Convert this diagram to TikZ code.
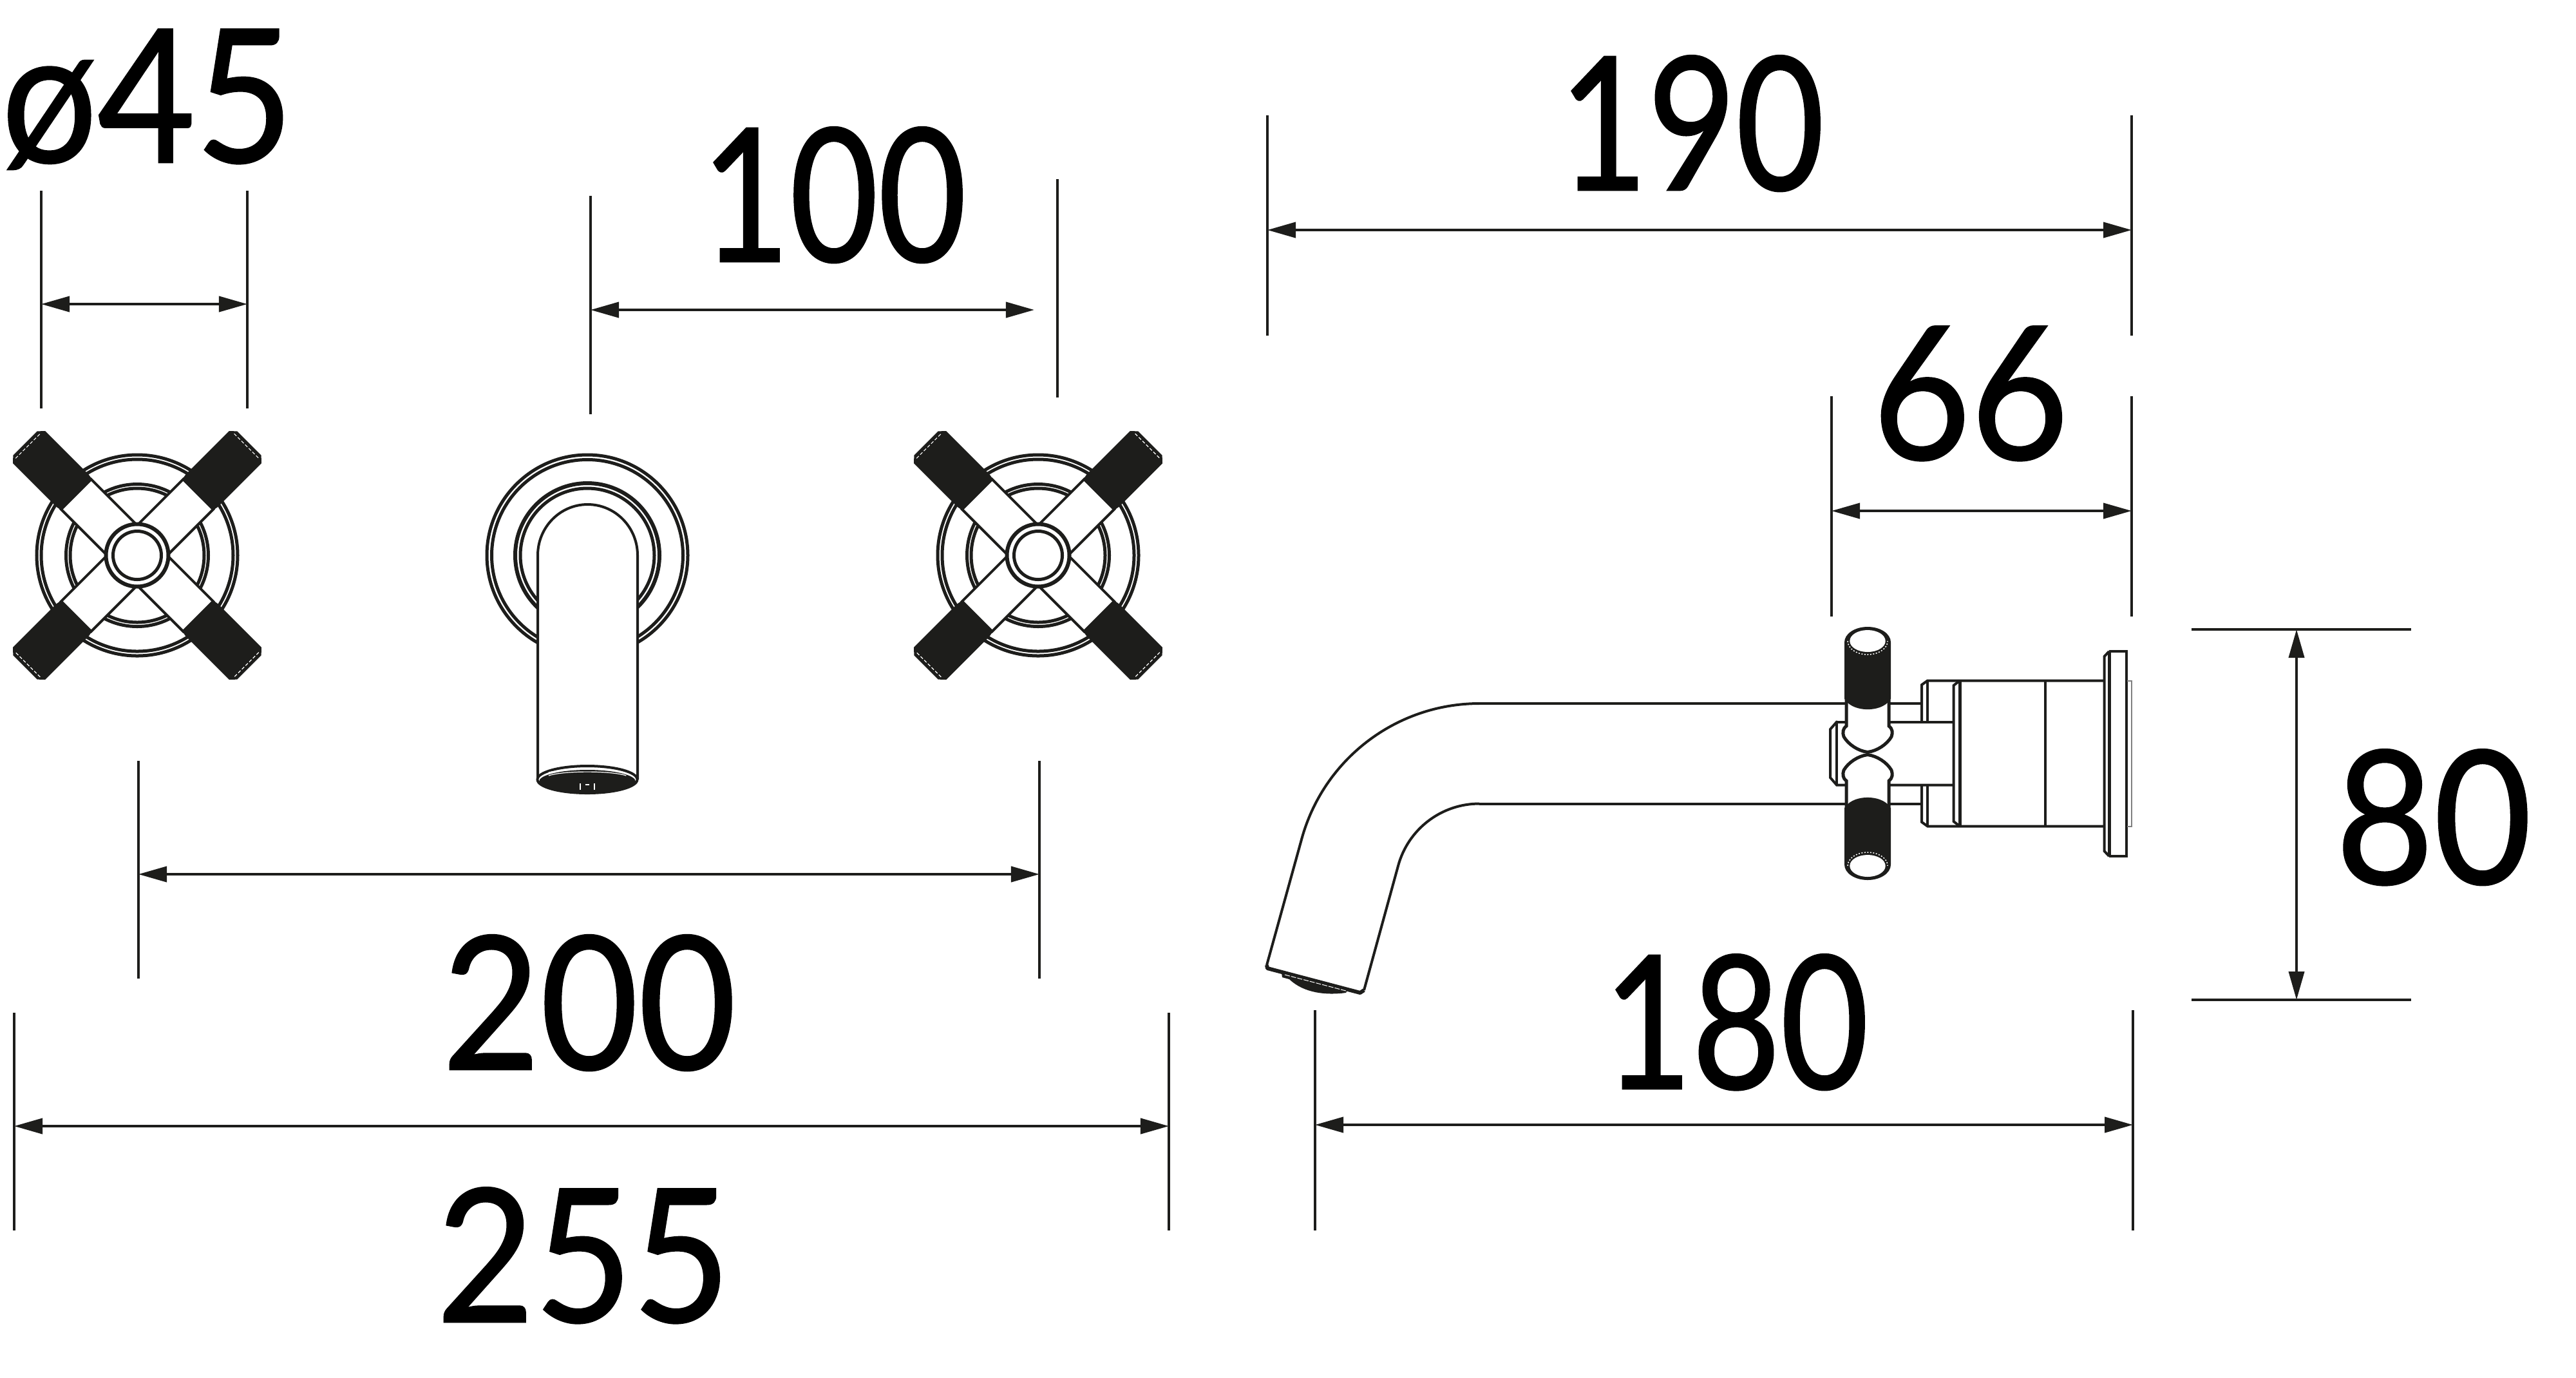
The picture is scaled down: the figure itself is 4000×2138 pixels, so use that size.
\documentclass[tikz,border=0pt]{standalone}
\usepackage{fontspec}
\setmainfont{Lato}[FakeStretch=.82,FakeBold=.9]
\newfontfamily\widefigures{Lato}[FakeStretch=.91,FakeBold=.9]
\usetikzlibrary{arrows.meta}

\definecolor{inkblack}{HTML}{1D1D1B}

\tikzset{
  extline/.style={draw=inkblack,line width=.04cm},
  dimline/.style={draw=inkblack,line width=.04cm,
    {Triangle[length=.44cm,width=.24cm]}-{Triangle[length=.44cm,width=.24cm]}},
  dimtext/.style={anchor=base,inner sep=0pt,font=\fontsize{82}{90}\selectfont},
  dimtext wide/.style={anchor=base,inner sep=0pt,font=\widefigures\fontsize{82}{90}\selectfont},
  part/.style={draw=inkblack,line width=.04cm},
  ring/.style={draw=inkblack,line width=.05cm},
  solid part/.style={fill=inkblack,draw=inkblack,line width=.02cm}
}

\begin{document}
\begin{tikzpicture}[x=.01cm,y=-.01cm]
  \useasboundingbox (0,0) rectangle (4000,2138);

  % crossheads seen from the front
  \foreach \cx in {213,1612} {
    \begin{scope}[shift={(\cx,862)}]
      \draw[ring] (0,0) circle (156);
      \draw[ring] (0,0) circle (149);
      \draw[ring] (0,0) circle (110.5);
      \draw[ring] (0,0) circle (104);
      \foreach \a in {45,135,225,315} {
        \fill[white,rotate=\a] (0,-33) rectangle (134,33);
      }
      \foreach \a in {45,135,225,315} {
        \begin{scope}[rotate=\a]
          \draw[part] (33,33) -- (134,33) -- (134,-33) -- (33,-33);
          \fill[solid part] (134,-33) -- (142,-34.5) -- (237,-34.5) -- (245,-26)
            -- (245,26) -- (237,34.5) -- (142,34.5) -- (134,33) -- cycle;
          \draw[white,line width=.012cm,dash pattern=on .05cm off .03cm] (240,-27) -- (240,27);
        \end{scope}
      }
      \filldraw[ring,line width=.06cm,fill=white] (0,0) circle (48.5);
      \draw[ring] (0,0) circle (37.5);
    \end{scope}
  }

  % spout seen from the front
  \draw[ring] (912,862) circle (156);
  \draw[ring] (912,862) circle (148.5);
  \draw[ring,line width=.06cm] (912,862) circle (112);
  \draw[ring] (912,862) circle (104);
  \filldraw[part,fill=white] (835,1210) -- (835,862) arc (180:360:77.5 and 79) -- (990,1210);
  \filldraw[part,fill=white] (912,1210) ellipse (77.5 and 21);
  \fill[inkblack] (912,1213) ellipse (75 and 18);
  \begin{scope}[white,line width=.012cm]
    \draw (852,1204) arc (200:340:64 and 9);
    \draw[dash pattern=on .06cm off .04cm] (852,1199) arc (210:330:68 and 10);
    \draw (901,1216) -- (901,1226) (923,1216) -- (923,1226);
    \draw (909,1218) -- (915,1218);
  \end{scope}

  % side view, body behind the crosshead
  \draw[part] (2297,1092) -- (2984,1092);
  \draw[part] (2297,1247.5) -- (2984,1247.5);
  \draw[part] (2297,1092) arc (-90:-165:286) -- (1967,1498);
  \draw[part] (2297,1247.5) arc (-90:-165:130.5) -- (2118,1537);
  \fill[inkblack] (1990,1510) -- (2092,1537) -- (2090,1541)
    .. controls (2060,1545) and (2025,1542) .. (2002,1520) -- (1991,1517) -- cycle;
  \draw[part,line width=.06cm,line join=round] (1967,1498) -- (1968,1503) -- (2112,1541) -- (2118,1537);
  \draw[white,line width=.01cm,dash pattern=on .08cm off .02cm] (1995,1513) -- (2090,1538);

  \draw[part] (2853,1120.5) -- (2852,1120.5) -- (2842,1132) -- (2842,1207) -- (2852,1218.5) -- (3033,1218.5);
  \draw[part] (2853,1120.5) -- (3033,1120.5);
  \draw[part] (2852,1120.5) -- (2852,1218.5);
  \draw[part] (2984,1120.5) -- (2984,1063) -- (2993,1056.5) -- (3267,1056.5);
  \draw[part] (2984,1218.5) -- (2984,1276) -- (2993,1282.5) -- (3267,1282.5);
  \draw[part] (2993,1056.5) -- (2993,1120.5) (2993,1218.5) -- (2993,1282.5);
  \draw[part] (3043,1056.5) -- (3033.5,1064) -- (3033.5,1275) -- (3043,1282.5);
  \draw[part,line width=.05cm] (3043,1056.5) -- (3043,1282.5);
  \draw[part] (3176,1056.5) -- (3176,1282.5);
  \draw[part] (3275,1011) -- (3267.5,1019) -- (3267.5,1321) -- (3275,1329);
  \draw[part,line width=.05cm] (3275,1011) -- (3275,1329);
  \draw[part] (3275,1011) -- (3302,1011) -- (3302,1329) -- (3275,1329);
  \draw[gray,line width=.015cm] (3303,1057) -- (3310,1057) -- (3310,1283) -- (3303,1283);

  % side view, the two crosshead arms
  \foreach \s in {1,-1} {
    \begin{scope}[shift={(2900,1169.5)},yscale=\s]
      \filldraw[part,line width=.05cm,fill=white] (-33,-84) -- (-33,-42.5)
        .. controls (-39,-38) and (-39,-32) .. (-37,-26)
        .. controls (-30,-14) and (-15,-4) .. (0,-2)
        .. controls (15,-4) and (30,-14) .. (37,-26)
        .. controls (39,-32) and (39,-38) .. (33,-42.5) -- (33,-84);
      \filldraw[solid part] (-35,-172.5) arc (180:360:35 and 23) -- (35,-85) -- (33,-82.5)
        .. controls (20,-65) and (-20,-65) .. (-33,-82.5) -- (-35,-85) -- cycle;
      \draw[white,line width=.015cm,dash pattern=on .02cm off .025cm] (-31,-174.5) arc (180:0:31 and 21);
      \fill[white] (0,-174.5) ellipse (27.7 and 17);
    \end{scope}
  }

  % dimension lines
  \coordinate (dia left top)     at (64,296);
  \coordinate (dia left bottom)  at (64,634);
  \coordinate (dia right top)    at (384,296);
  \coordinate (dia right bottom) at (384,634);
  \coordinate (dia left end)     at (64,472);
  \coordinate (dia right end)    at (384,472);
  \draw[extline] (dia left top) -- (dia left bottom);
  \draw[extline] (dia right top) -- (dia right bottom);
  \draw[dimline] (dia left end) -- (dia right end);
  \node[dimtext wide] (dia label) at (229,252) {ø45};

  \coordinate (hole left top)     at (917,304);
  \coordinate (hole left bottom)  at (917,643);
  \coordinate (hole right top)    at (1642,278);
  \coordinate (hole right bottom) at (1642,617);
  \coordinate (hole left end)     at (917,481);
  \coordinate (hole right end)    at (1606,481);
  \draw[extline] (hole left top) -- (hole left bottom);
  \draw[extline] (hole right top) -- (hole right bottom);
  \draw[dimline] (hole left end) -- (hole right end);
  \node[dimtext] (hole label) at (1295,406) {100};

  \coordinate (reach left top)     at (1968,179);
  \coordinate (reach left bottom)  at (1968,521);
  \coordinate (reach right top)    at (3310,179);
  \coordinate (reach right bottom) at (3310,521);
  \coordinate (reach left end)     at (1968,357);
  \coordinate (reach right end)    at (3310,357);
  \draw[extline] (reach left top) -- (reach left bottom);
  \draw[extline] (reach right top) -- (reach right bottom);
  \draw[dimline] (reach left end) -- (reach right end);
  \node[dimtext] (reach label) at (2627,295) {190};

  \coordinate (head left top)     at (2844,615);
  \coordinate (head left bottom)  at (2844,957);
  \coordinate (head right top)    at (3310,615);
  \coordinate (head right bottom) at (3310,957);
  \coordinate (head left end)     at (2844,793);
  \coordinate (head right end)    at (3310,793);
  \draw[extline] (head left top) -- (head left bottom);
  \draw[extline] (head right top) -- (head right bottom);
  \draw[dimline] (head left end) -- (head right end);
  \node[dimtext wide] (head label) at (3060,713) {66};

  \coordinate (plate top left)     at (3403,977);
  \coordinate (plate top right)    at (3744,977);
  \coordinate (plate bottom left)  at (3403,1552);
  \coordinate (plate bottom right) at (3744,1552);
  \coordinate (plate top end)      at (3566,977);
  \coordinate (plate bottom end)   at (3566,1552);
  \draw[extline] (plate top left) -- (plate top right);
  \draw[extline] (plate bottom left) -- (plate bottom right);
  \draw[dimline] (plate top end) -- (plate bottom end);
  \node[dimtext wide] (plate label) at (3779,1372) {80};

  \coordinate (centres left top)     at (215,1181);
  \coordinate (centres left bottom)  at (215,1519);
  \coordinate (centres right top)    at (1614,1181);
  \coordinate (centres right bottom) at (1614,1519);
  \coordinate (centres left end)     at (215,1357);
  \coordinate (centres right end)    at (1614,1357);
  \draw[extline] (centres left top) -- (centres left bottom);
  \draw[extline] (centres right top) -- (centres right bottom);
  \draw[dimline] (centres left end) -- (centres right end);
  \node[dimtext wide] (centres label) at (915,1660) {200};

  \coordinate (total left top)     at (22,1572);
  \coordinate (total left bottom)  at (22,1910);
  \coordinate (total right top)    at (1815,1572);
  \coordinate (total right bottom) at (1815,1910);
  \coordinate (total left end)     at (22,1748);
  \coordinate (total right end)    at (1815,1748);
  \draw[extline] (total left top) -- (total left bottom);
  \draw[extline] (total right top) -- (total right bottom);
  \draw[dimline] (total left end) -- (total right end);
  \node[dimtext wide] (total label) at (906,2052) {255};

  \coordinate (spout left top)     at (2042,1568);
  \coordinate (spout left bottom)  at (2042,1910);
  \coordinate (spout right top)    at (3312,1568);
  \coordinate (spout right bottom) at (3312,1910);
  \coordinate (spout left end)     at (2042,1746);
  \coordinate (spout right end)    at (3312,1746);
  \draw[extline] (spout left top) -- (spout left bottom);
  \draw[extline] (spout right top) -- (spout right bottom);
  \draw[dimline] (spout left end) -- (spout right end);
  \node[dimtext] (spout label) at (2696,1690) {180};
\end{tikzpicture}
\end{document}
